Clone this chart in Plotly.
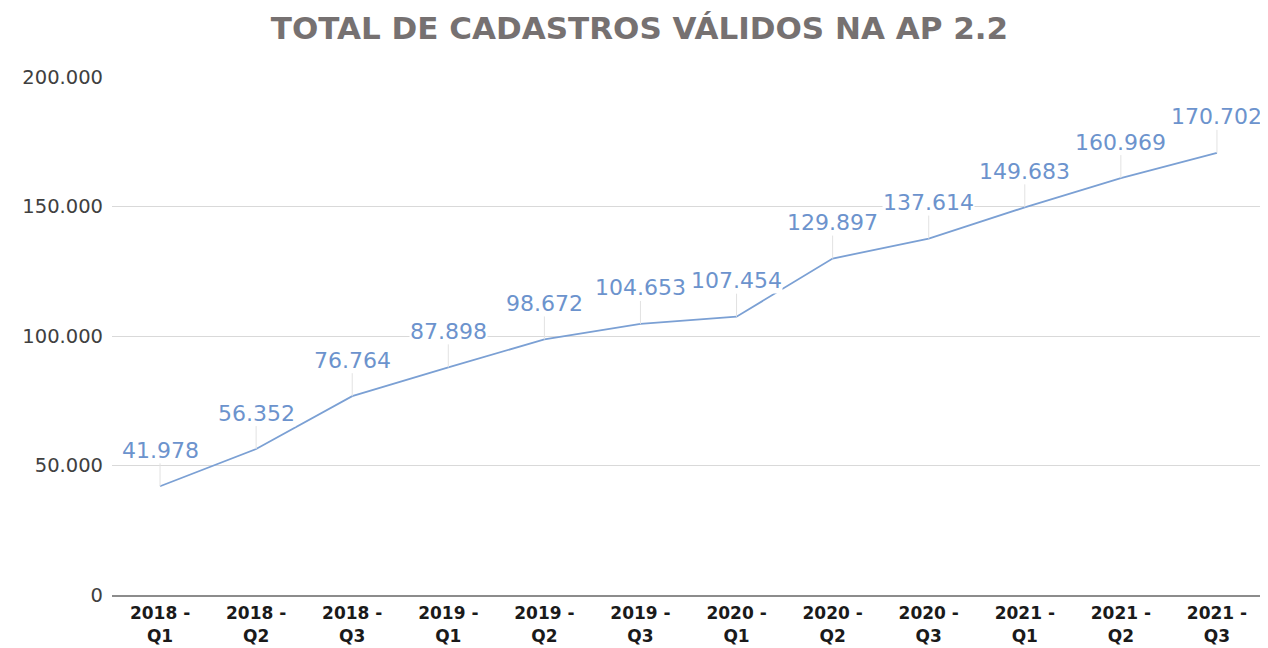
import plotly.graph_objects as go

# data
periods = ["2018 -<br>Q1", "2018 -<br>Q2", "2018 -<br>Q3", "2019 -<br>Q1",
           "2019 -<br>Q2", "2019 -<br>Q3", "2020 -<br>Q1", "2020 -<br>Q2",
           "2020 -<br>Q3", "2021 -<br>Q1", "2021 -<br>Q2", "2021 -<br>Q3"]
cadastros = [41978, 56352, 76764, 87898, 98672, 104653, 107454, 129897,
             137614, 149683, 160969, 170702]
y_ticks = [0, 50000, 100000, 150000, 200000]

LINE = '#7ba0d4'
LABEL = '#6c93cd'
FONT = 'DejaVu Sans'


def fmt(v):
    return f"{v:,}".replace(",", ".")


fig = go.Figure(
    data=[go.Scatter(x=periods, y=cadastros, mode='lines',
                     line=dict(color=LINE, width=1.8), hoverinfo='skip')]
)

# data labels with light leader lines
for p, v in zip(periods, cadastros):
    fig.add_annotation(
        x=p, y=v, text=fmt(v), showarrow=True, arrowhead=0, arrowwidth=1,
        arrowcolor='#e2e2e2', ax=0, ay=-36, standoff=0,
        bgcolor='white', borderpad=0,
        font=dict(family=FONT, size=22, color=LABEL),
    )

# the page body adds an 8px margin, so the margins here are shifted by that
fig.update_layout(
    width=1268, height=648,
    margin=dict(l=104, r=11, t=69, b=61),
    paper_bgcolor='white', plot_bgcolor='white',
    showlegend=False,
    separators=',.',
    title=dict(text='<b>TOTAL DE CADASTROS VÁLIDOS NA AP 2.2</b>',
               x=0.498, xanchor='center', y=0.969, yanchor='middle',
               font=dict(family=FONT, size=31, color='#767171')),
    xaxis=dict(type='category', range=[-0.5, 11.5], showgrid=False,
               showline=True, linecolor='#8c8c8c', linewidth=2,
               ticks='', ticklabelstandoff=2,
               tickfont=dict(family=FONT, size=17, color='#1a1a1a'),
               tickprefix='<b>', ticksuffix='</b>'),
    yaxis=dict(range=[0, 200000], tickvals=y_ticks,
               ticktext=[fmt(t) for t in y_ticks],
               showgrid=True, gridcolor='#d9d9d9', gridwidth=1,
               zeroline=False, showline=False, ticks='',
               ticklabelstandoff=8,
               tickfont=dict(family=FONT, size=19.5, color='#404040')),
)

fig.write_html("out.html")
